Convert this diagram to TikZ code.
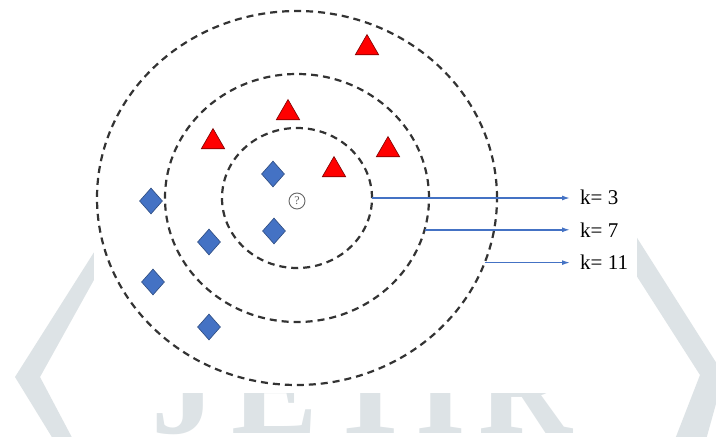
\documentclass[tikz,border=0pt]{standalone}
\usepackage{fontspec}
\setmainfont{Liberation Serif}
\usetikzlibrary{shapes.geometric,arrows.meta}
\definecolor{wm}{HTML}{DDE3E6}
\definecolor{ptblue}{HTML}{4472C4}
\definecolor{ptblueedge}{HTML}{2E4C80}
\definecolor{ptred}{HTML}{FF0000}
\definecolor{ptrededge}{HTML}{7A0000}
\definecolor{ringgray}{HTML}{333333}
\definecolor{arrowblue}{HTML}{4472C4}
\definecolor{qgray}{HTML}{666666}

\begin{document}
\begin{tikzpicture}[x=1pt,y=-1pt,
  ring/.style={ellipse, draw=ringgray, line width=2.2pt, dash pattern=on 7pt off 5pt, inner sep=0pt, outer sep=0pt},
  classA/.style={regular polygon, regular polygon sides=3, minimum size=27pt, inner sep=0pt, fill=ptred, draw=ptrededge, line width=0.6pt},
  classB/.style={diamond, minimum width=23pt, minimum height=26pt, inner sep=0pt, fill=ptblue, draw=ptblueedge, line width=0.6pt},
  klabel/.style={anchor=base west, inner sep=0pt, font=\fontsize{21}{21}\selectfont},
  kline/.style={draw=arrowblue, line width=1.4pt, shorten >=10pt, -{Latex[length=8pt,width=5pt]}},
  wmletter/.style={anchor=base, text=wm, inner sep=0pt, font=\fontsize{130}{130}\selectfont\bfseries}
]
\useasboundingbox (0,0) rectangle (716,437);
\clip (0,0) rectangle (716,437);
\fill[white] (0,0) rectangle (716,437);

% watermark: chevrons and lettering
\fill[wm] (110,227) -- (15,377) -- (58,447) -- (77,447) -- (40,377) -- (110,251) -- cycle;
\fill[wm] (620,211) -- (724,375) -- (704,447) -- (672,447) -- (700,375) -- (620,250) -- cycle;
\node[wmletter] (wJ) at (184,433) {J};
\node[wmletter] (wE) at (275,433) {E};
\node[wmletter] (wT) at (371,433) {T};
\node[wmletter] (wI) at (441,433) {I};
\node[wmletter] (wR) at (525,433) {R};
\fill[white] (94,-1) rectangle (637,393);

% neighbourhood rings
\coordinate (c) at (297,198);
\node[ring, minimum width=150pt, minimum height=140pt] (r1) at (c) {};
\node[ring, minimum width=264pt, minimum height=248pt] (r2) at (c) {};
\node[ring, minimum width=400pt, minimum height=374pt] (r3) at (c) {};

% query point
\node[circle, draw=qgray, line width=0.9pt, minimum size=16pt, inner sep=0pt, text=qgray,
      font=\fontsize{12}{12}\selectfont] (q) at (297,201) {?};

% class A samples
\node[classA] (a1) at (367,48) {};
\node[classA] (a2) at (288,113) {};
\node[classA] (a3) at (213,142) {};
\node[classA] (a4) at (388,150) {};
\node[classA] (a5) at (334,170) {};

% class B samples
\node[classB] (b1) at (273,174) {};
\node[classB] (b2) at (274,231) {};
\node[classB] (b3) at (151,201) {};
\node[classB] (b4) at (209,242) {};
\node[classB] (b5) at (153,282) {};
\node[classB] (b6) at (209,327) {};

% k labels and pointers
\node[klabel] (t3) at (580,204) {k= 3};
\node[klabel] (t7) at (580,237) {k= 7};
\node[klabel] (t11) at (580,269) {k= 11};
\draw[kline] (r1.east) -- (r1.east -| t3.west);
\draw[kline] (r2.-14.6) -- (r2.-14.6 -| t7.west);
\draw[kline] (r3.-19.1) -- (r3.-19.1 -| t11.west);
\end{tikzpicture}
\end{document}
